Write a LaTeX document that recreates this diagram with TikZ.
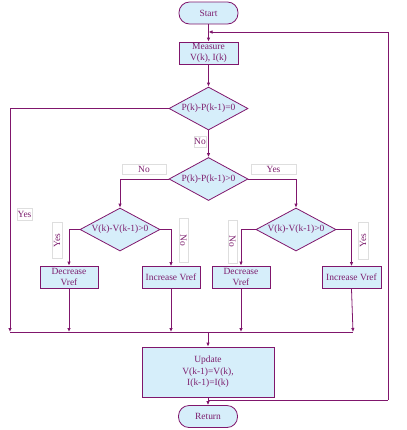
\documentclass[tikz,border=0pt]{standalone}
\usepackage{fontspec}
\setmainfont{Liberation Serif}
\usetikzlibrary{shapes.geometric,arrows.meta}
\definecolor{lineP}{RGB}{128,22,108}
\definecolor{textP}{RGB}{125,30,110}
\definecolor{fillB}{RGB}{214,238,250}
\definecolor{labB}{RGB}{222,222,222}
\tikzset{
  base/.style={draw=lineP, line width=0.8pt, fill=fillB, text=textP, inner sep=0pt, align=center,
    font=\fontsize{9.5}{11.5}\selectfont},
  term/.style={base, rectangle, rounded corners=10.5bp, minimum width=59bp, minimum height=22bp},
  proc/.style={base, rectangle, minimum height=22bp, minimum width=58bp},
  dec/.style={base, diamond, aspect=1.85, minimum width=79bp, minimum height=43bp},
  lab/.style={draw=labB, line width=0.5pt, fill=white, text=textP, inner sep=0pt,
    font=\fontsize{9.5}{11.5}\selectfont},
  conn/.style={draw=lineP, line width=0.8pt},
  arr/.style={conn, -{Latex[length=4bp,width=3.5bp]}}
}
\begin{document}
\begin{tikzpicture}[x=1bp,y=-1bp]
\useasboundingbox (0,0) rectangle (407,430);
% nodes
\node[term] (start) at (208.5,13) {Start};
\node[proc, minimum width=59bp] (meas) at (208.5,53) {Measure\\V(k), I(k)};
\node[dec] (d1) at (208.5,108.5) {P(k)-P(k-1)=0};
\node[dec] (d2) at (208.5,179) {P(k)-P(k-1)>0};
\node[dec, minimum width=80bp] (d3) at (120,229.5) {V(k)-V(k-1)>0};
\node[dec, minimum width=80bp] (d4) at (296,229.5) {V(k)-V(k-1)>0};
\node[proc] (dec1) at (69,277) {Decrease\\Vref};
\node[proc] (inc1) at (171,277.5) {Increase Vref};
\node[proc] (dec2) at (241,277) {Decrease\\Vref};
\node[proc, minimum width=59bp] (inc2) at (351.5,277.5) {Increase Vref};
\node[proc, minimum width=132bp, minimum height=50bp] (upd) at (208,372) {Update\\V(k-1)=V(k),\\I(k-1)=I(k)};
\node[term] (ret) at (208,416.5) {Return};
% labels
\node[lab, minimum width=12bp, minimum height=11bp] (lno1) at (200,141.5) {No};
\node[lab, minimum width=44bp, minimum height=10bp] (lno2) at (144,169) {No};
\node[lab, minimum width=45bp, minimum height=10bp] (lyes2) at (273.5,169) {Yes};
\node[lab, minimum width=15bp, minimum height=12bp] (lyes1) at (24.5,214) {Yes};
\node[lab, rotate=90, minimum width=36bp, minimum height=10bp] (lyes3) at (57,240.5) {Yes};
\node[lab, rotate=-90, minimum width=44bp, minimum height=9bp] (lno3) at (183.5,240) {No};
\node[lab, rotate=-90, minimum width=43bp, minimum height=9bp] (lno4) at (232.5,241.5) {No};
\node[lab, rotate=90, minimum width=37bp, minimum height=10bp] (lyes4) at (363,240.5) {Yes};
% coordinates
\coordinate (top) at (208.5,32);
\coordinate (bot) at (208,400);
\coordinate (rtop) at (388,32);
\coordinate (rbot) at (388,400);
\coordinate (lup) at (10,108.5);
\coordinate (m0) at (10,332);
\coordinate (m1) at (69,332);
\coordinate (m2) at (171,332);
\coordinate (m3) at (241,332);
\coordinate (m4) at (353,332);
\coordinate (mc) at (208,332);
% connectors
\draw[arr] (start) -- (meas);
\draw[arr] (rbot) -- (rtop) -- (top);
\draw[conn] (bot) -- (rbot);
\draw[arr] (meas) -- (d1);
\draw[arr] (d1) -- (d2);
\draw[arr] (d1.west) -- (lup) -- (m0);
\draw[arr] (d2.west) -| (d3.north);
\draw[arr] (d2.east) -| (d4.north);
\draw[arr] (d3.west) -| (dec1.north);
\draw[arr] (d3.east) -| (inc1.north);
\draw[arr] (d4.west) -| (dec2.north);
\draw[arr] (d4.east) -| (inc2.north);
\draw[arr] (dec1.south) -- (m1);
\draw[arr] (inc1.south) -- (m2);
\draw[arr] (dec2.south) -- (m3);
\draw[arr] (inc2.south) -- (m4);
\draw[conn] (m0) -- (m4);
\draw[arr] (mc) -- (upd.north);
\draw[arr] (upd.south) -- (ret.north);
\end{tikzpicture}
\end{document}
